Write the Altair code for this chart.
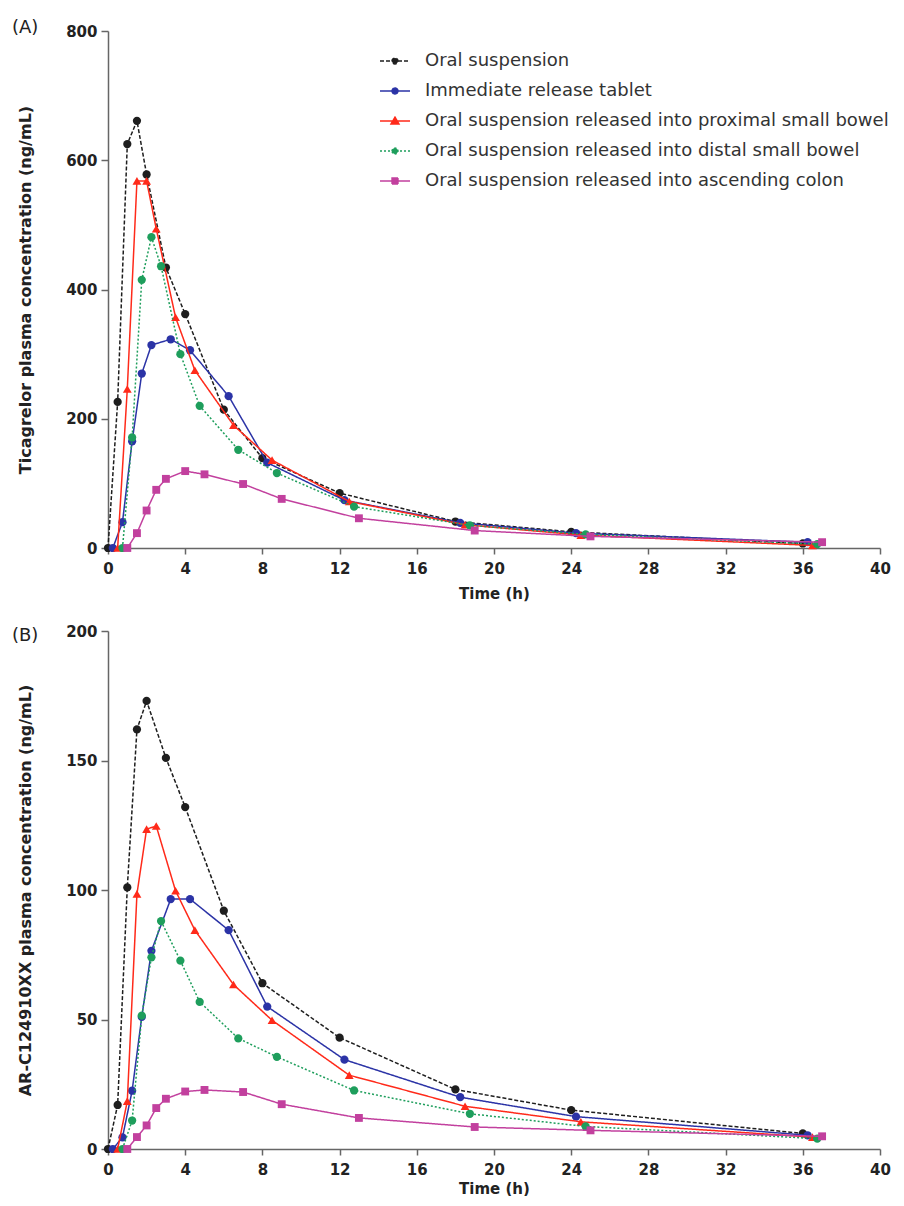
import altair as alt
import pandas as pd

SERIES = [
    "Oral suspension",
    "Immediate release tablet",
    "Oral suspension released into proximal small bowel",
    "Oral suspension released into distal small bowel",
    "Oral suspension released into ascending colon",
]
COLORS = ["#1e1e1e", "#2b33a6", "#ff2a1a", "#1e9e5c", "#c2409e"]
DASHES = [[4, 2], [1, 0], [1, 0], [2, 2], [1, 0]]
SHAPES = ["circle", "circle", "triangle-up", "circle", "square"]
SIZES = [68, 68, 78, 68, 62]

# sampling times (h) per formulation (slightly offset in the figure)
T_OS = [0, 0.5, 1, 1.5, 2, 3, 4, 6, 8, 12, 18, 24, 36]
T_IR = [0.25, 0.75, 1.25, 1.75, 2.25, 3.25, 4.25, 6.25, 8.25, 12.25, 18.25, 24.25, 36.25]
T_PSB = [0.5, 1, 1.5, 2, 2.5, 3.5, 4.5, 6.5, 8.5, 12.5, 18.5, 24.5, 36.5]
T_DSB = [0.75, 1.25, 1.75, 2.25, 2.75, 3.75, 4.75, 6.75, 8.75, 12.75, 18.75, 24.75, 36.75]
T_AC = [1, 1.5, 2, 2.5, 3, 4, 5, 7, 9, 13, 19, 25, 37]

# (A) Ticagrelor plasma concentration (ng/mL)
A_OS = [0, 226, 625, 661, 578, 434, 362, 214, 139, 85, 41, 25, 7]
A_IR = [0, 40, 165, 270, 314, 323, 306, 235, 132, 74, 39, 23, 9]
A_PSB = [0, 246, 568, 568, 494, 357, 275, 190, 136, 72, 36, 20, 4]
A_DSB = [0, 171, 415, 481, 436, 300, 220, 152, 116, 64, 35, 21, 6]
A_AC = [0, 23, 58, 90, 107, 119, 114, 99, 76, 46, 27, 18, 9]

# (B) AR-C124910XX plasma concentration (ng/mL)
B_OS = [0, 17, 101, 162, 173, 151, 132, 92, 64, 43, 23, 15, 6]
B_IR = [0, 4.5, 22.5, 51, 76.5, 96.5, 96.5, 84.5, 55, 34.5, 20, 12.5, 5.3]
B_PSB = [0, 18.5, 98.5, 123.5, 124.7, 99.7, 84.5, 63.5, 49.7, 28.5, 16.5, 10.5, 4.6]
B_DSB = [0, 11, 51.5, 74, 88, 72.7, 56.8, 42.7, 35.6, 22.6, 13.6, 8.7, 4]
B_AC = [0, 4.6, 9.1, 15.8, 19.4, 22.2, 22.8, 22, 17.3, 12, 8.5, 7.2, 4.9]

TIMES = [T_OS, T_IR, T_PSB, T_DSB, T_AC]
X_TICKS = list(range(0, 41, 4))

LEGEND_PATHS = [
    "M-1,0H1M-0.2,0A0.2,0.2,0,1,1,0.2,0A0.2,0.2,0,1,1,-0.2,0Z",
    "M-1,0H1M-0.2,0A0.2,0.2,0,1,1,0.2,0A0.2,0.2,0,1,1,-0.2,0Z",
    "M-1,0H1M0,-0.26L0.27,0.2L-0.27,0.2Z",
    "M-1,0H1M-0.2,0A0.2,0.2,0,1,1,0.2,0A0.2,0.2,0,1,1,-0.2,0Z",
    "M-1,0H1M-0.2,-0.2H0.2V0.2H-0.2Z",
]

FONT = "DejaVu Sans"


def make_df(values):
    rows = []
    for name, ts, vs in zip(SERIES, TIMES, values):
        for t, v in zip(ts, vs):
            rows.append({"series": name, "time": t, "conc": v})
    return pd.DataFrame(rows)


def panel(values, ytitle, ymax, ystep, label, label_dy, height, xtitle_pad):
    df = make_df(values)
    base = alt.Chart(df)
    x = alt.X("time:Q", scale=alt.Scale(domain=[0, 40], nice=False, zero=False),
              axis=alt.Axis(values=X_TICKS, title="Time (h)", labelFlush=False,
                            titlePadding=xtitle_pad))
    y = alt.Y("conc:Q", scale=alt.Scale(domain=[0, ymax], nice=False),
              axis=alt.Axis(values=list(range(0, ymax + 1, ystep)), title=ytitle))

    leg = alt.Legend(
        title=None, orient="none", legendX=271, legendY=19, padding=0,
        labelFont=FONT, labelFontSize=18, labelColor="#333", labelLimit=700,
        labelOffset=14, symbolSize=900, symbolStrokeWidth=1.4, symbolOpacity=1,
        symbolFillColor="#000", symbolStrokeColor="#000", clipHeight=22, rowPadding=8,
    )
    legend_layer = base.mark_point(filled=True, opacity=0).encode(
        x=x, y=y,
        fill=alt.Fill("series:N", scale=alt.Scale(domain=SERIES, range=COLORS), legend=leg),
        stroke=alt.Stroke("series:N", scale=alt.Scale(domain=SERIES, range=COLORS), legend=leg),
        shape=alt.Shape("series:N", scale=alt.Scale(domain=SERIES, range=LEGEND_PATHS), legend=leg),
        strokeDash=alt.StrokeDash("series:N", scale=alt.Scale(domain=SERIES, range=DASHES), legend=leg),
    )

    layers = [legend_layer]
    for name, col, dash, shp, sz in zip(SERIES, COLORS, DASHES, SHAPES, SIZES):
        sub = base.transform_filter(alt.datum.series == name)
        layers.append(sub.mark_line(color=col, strokeDash=dash, strokeWidth=1.5).encode(x="time:Q", y="conc:Q"))
        layers.append(sub.mark_point(shape=shp, filled=True, color=col, size=sz, opacity=1)
                      .encode(x="time:Q", y="conc:Q"))

    lab = alt.Chart(pd.DataFrame({"t": [label]})).mark_text(
        align="left", baseline="middle", font=FONT, fontSize=18, color="#222"
    ).encode(text="t:N", x=alt.value(-96), y=alt.value(label_dy))
    layers.append(lab)

    return alt.layer(*layers).properties(width=772, height=height)


pa = panel([A_OS, A_IR, A_PSB, A_DSB, A_AC], "Ticagrelor plasma concentration (ng/mL)",
           800, 200, "(A)", -3, 517, 10)
pb = panel([B_OS, B_IR, B_PSB, B_DSB, B_AC], "AR-C124910XX plasma concentration (ng/mL)",
           200, 50, "(B)", 5, 518, 4)

chart = alt.vconcat(pa, pb, spacing=23).properties(
    padding={"left": 4, "top": 11, "right": 2, "bottom": 0},
    background="white",
).configure_view(stroke=None).configure_axis(
    grid=False,
    labelFont=FONT, labelFontSize=15, labelFontWeight="bold", labelColor="#222",
    titleFont=FONT, titleFontWeight="bold", titleColor="#222",
    domainColor="#666", domainWidth=1.5, tickColor="#666", tickWidth=1.5,
).configure_axisX(
    tickSize=6, labelPadding=7, titleFontSize=15,
).configure_axisY(
    tickSize=7, labelPadding=4, titlePadding=32, titleFontSize=16,
)

chart.save("out.html", embed_options={"renderer": "svg", "actions": False})
